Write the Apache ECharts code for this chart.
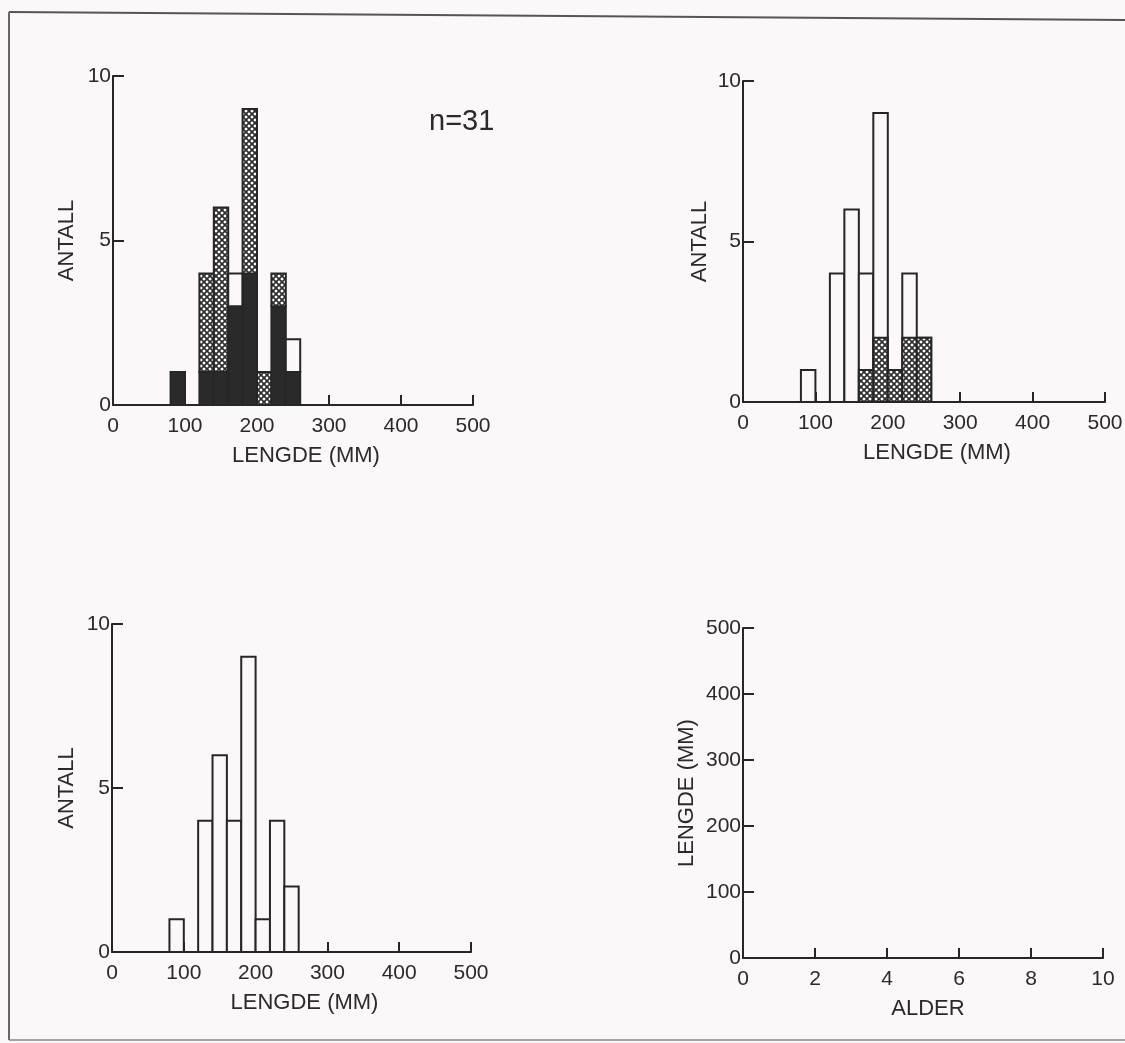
<!DOCTYPE html>
<html><head><meta charset="utf-8">
<script src="https://cdn.jsdelivr.net/npm/echarts@6/dist/echarts.min.js"></script>
<style>html,body{margin:0;padding:0;background:#fcf7f9;} #c{width:1125px;height:1043px;}</style>
</head><body><div id="c"></div>
<script>
// ---- data ----
const binStarts = [80, 100, 120, 140, 160, 180, 200, 220, 240];
const binWidth = 20;
// panel 1 (stacked: filled / cross-hatched / open)
const p1Filled = [1, 0, 1, 1, 3, 4, 0, 3, 1];
const p1Cross  = [0, 0, 3, 5, 0, 5, 1, 1, 0];
const p1Open   = [0, 0, 0, 0, 1, 0, 0, 0, 1];
// panel 2 (total with cross-hatched part)
const p2Total  = [1, 0, 4, 6, 4, 9, 1, 4, 2];
const p2Cross  = [0, 0, 0, 0, 1, 2, 1, 2, 2];
// panel 3 (total)
const p3Total  = [1, 0, 4, 6, 4, 9, 1, 4, 2];
// panel 4 (age vs length, empty)
const p4Age = [];
const p4Length = [];
const nLabel = 'n=31';

// ---- styling helpers ----
const INK = '#262626';
const TXT = '#2a2a2a';
const BG = '#fcf7f9';
const FONT = 'Liberation Sans';

const pat = document.createElement('canvas');
pat.width = 6; pat.height = 6;
(function(){
  const g = pat.getContext('2d');
  g.fillStyle = '#ffffff'; g.fillRect(0,0,6,6);
  g.strokeStyle = '#2e2e2e'; g.lineWidth = 1.7;
  g.beginPath();
  g.moveTo(-1,-1); g.lineTo(7,7);
  g.moveTo(7,-1); g.lineTo(-1,7);
  g.stroke();
})();
const crossFill = {image: pat, repeat: 'repeat'};
const fills = {filled: '#2a2a2a', cross: crossFill, open: BG};

function stackSegs(layers) {
  const segs = [];
  binStarts.forEach((x0, i) => {
    let base = 0;
    layers.forEach(([arr, kind]) => {
      const v = arr[i];
      if (v > 0) { segs.push([x0, x0 + binWidth, base, base + v, kind]); base += v; }
    });
  });
  return segs;
}
function overlaySegs(total, part) {
  const segs = [];
  binStarts.forEach((x0, i) => {
    if (total[i] > 0) segs.push([x0, x0 + binWidth, 0, total[i], 'open']);
  });
  binStarts.forEach((x0, i) => {
    if (part[i] > 0) segs.push([x0, x0 + binWidth, 0, part[i], 'cross']);
  });
  return segs;
}
const seg1 = stackSegs([[p1Filled, 'filled'], [p1Cross, 'cross'], [p1Open, 'open']]);
const seg2 = overlaySegs(p2Total, p2Cross);
const seg3 = overlaySegs(p3Total, p3Total.map(() => 0));

function makeRender(segs) {
  return function (params, api) {
    const s = segs[params.dataIndex];
    const a = api.coord([s[0], s[3]]);
    const b = api.coord([s[1], s[2]]);
    return {
      type: 'rect',
      shape: {x: a[0], y: a[1], width: b[0] - a[0], height: b[1] - a[1]},
      style: {fill: fills[s[4]], stroke: INK, lineWidth: 2}
    };
  };
}
function histSeries(segs, idx) {
  return {
    type: 'custom', xAxisIndex: idx, yAxisIndex: idx, clip: false,
    renderItem: makeRender(segs),
    encode: {x: [0, 1], y: [2, 3]},
    data: segs.map(s => s.slice(0, 4))
  };
}

const tickLabel = {color: TXT, fontFamily: FONT, fontSize: 21};
const nameStyle = {color: TXT, fontFamily: FONT, fontSize: 22};
const axisLine = {show: true, onZero: false, lineStyle: {color: INK, width: 2}};

function xAx(idx, max, interval, name, pad) {
  return {
    type: 'value', gridIndex: idx, min: 0, max: max, interval: interval,
    name: name, nameLocation: 'middle', nameGap: 40,
    nameTextStyle: Object.assign({padding: pad || 0}, nameStyle),
    axisLine: axisLine,
    axisTick: {show: true, inside: true, length: 10, lineStyle: {color: INK, width: 2}},
    axisLabel: Object.assign({margin: 11}, tickLabel),
    splitLine: {show: false}
  };
}
function yAx(idx, max, interval, name, gap) {
  return {
    type: 'value', gridIndex: idx, min: 0, max: max, interval: interval,
    name: name, nameLocation: 'middle', nameGap: gap, nameRotate: 90,
    nameTextStyle: nameStyle,
    axisLine: axisLine,
    axisTick: {show: true, inside: true, length: 11, lineStyle: {color: INK, width: 2}},
    axisLabel: Object.assign({margin: 2}, tickLabel),
    splitLine: {show: false}
  };
}

const chart = echarts.init(document.getElementById('c'), null, {renderer: 'canvas'});
chart.setOption({
  backgroundColor: BG,
  animation: false,
  grid: [
    {left: 113, top: 76, width: 360, height: 329, containLabel: false, outerBoundsMode: 'none'},
    {left: 743, top: 81, width: 362, height: 321, containLabel: false, outerBoundsMode: 'none'},
    {left: 112, top: 624, width: 359, height: 328, containLabel: false, outerBoundsMode: 'none'},
    {left: 743, top: 628, width: 360, height: 330, containLabel: false, outerBoundsMode: 'none'}
  ],
  xAxis: [
    xAx(0, 500, 100, 'LENGDE (MM)', [0, 0, 0, 26]),
    xAx(1, 500, 100, 'LENGDE (MM)', [0, 0, 0, 26]),
    xAx(2, 500, 100, 'LENGDE (MM)', [0, 0, 0, 26]),
    xAx(3, 10, 2, 'ALDER', [0, 0, 0, 10])
  ],
  yAxis: [
    yAx(0, 10, 5, 'ANTALL', 35),
    yAx(1, 10, 5, 'ANTALL', 32),
    yAx(2, 10, 5, 'ANTALL', 34),
    yAx(3, 500, 100, 'LENGDE (MM)', 45)
  ],
  series: [
    histSeries(seg1, 0),
    histSeries(seg2, 1),
    histSeries(seg3, 2),
    {type: 'scatter', xAxisIndex: 3, yAxisIndex: 3, data: p4Age.map((a, i) => [a, p4Length[i]])}
  ],
  graphic: [
    {type: 'text', left: 429, top: 107, style: {text: nLabel, fill: TXT, font: '29px "Liberation Sans"'}},
    {type: 'line', shape: {x1: 9, y1: 12, x2: 1125, y2: 20}, style: {stroke: '#555', lineWidth: 2}},
    {type: 'line', shape: {x1: 9, y1: 12, x2: 9, y2: 1040}, style: {stroke: '#666', lineWidth: 2}},
    {type: 'line', shape: {x1: 9, y1: 1040, x2: 1125, y2: 1040}, style: {stroke: '#888', lineWidth: 1.5}}
  ]
});
</script>
</body></html>
